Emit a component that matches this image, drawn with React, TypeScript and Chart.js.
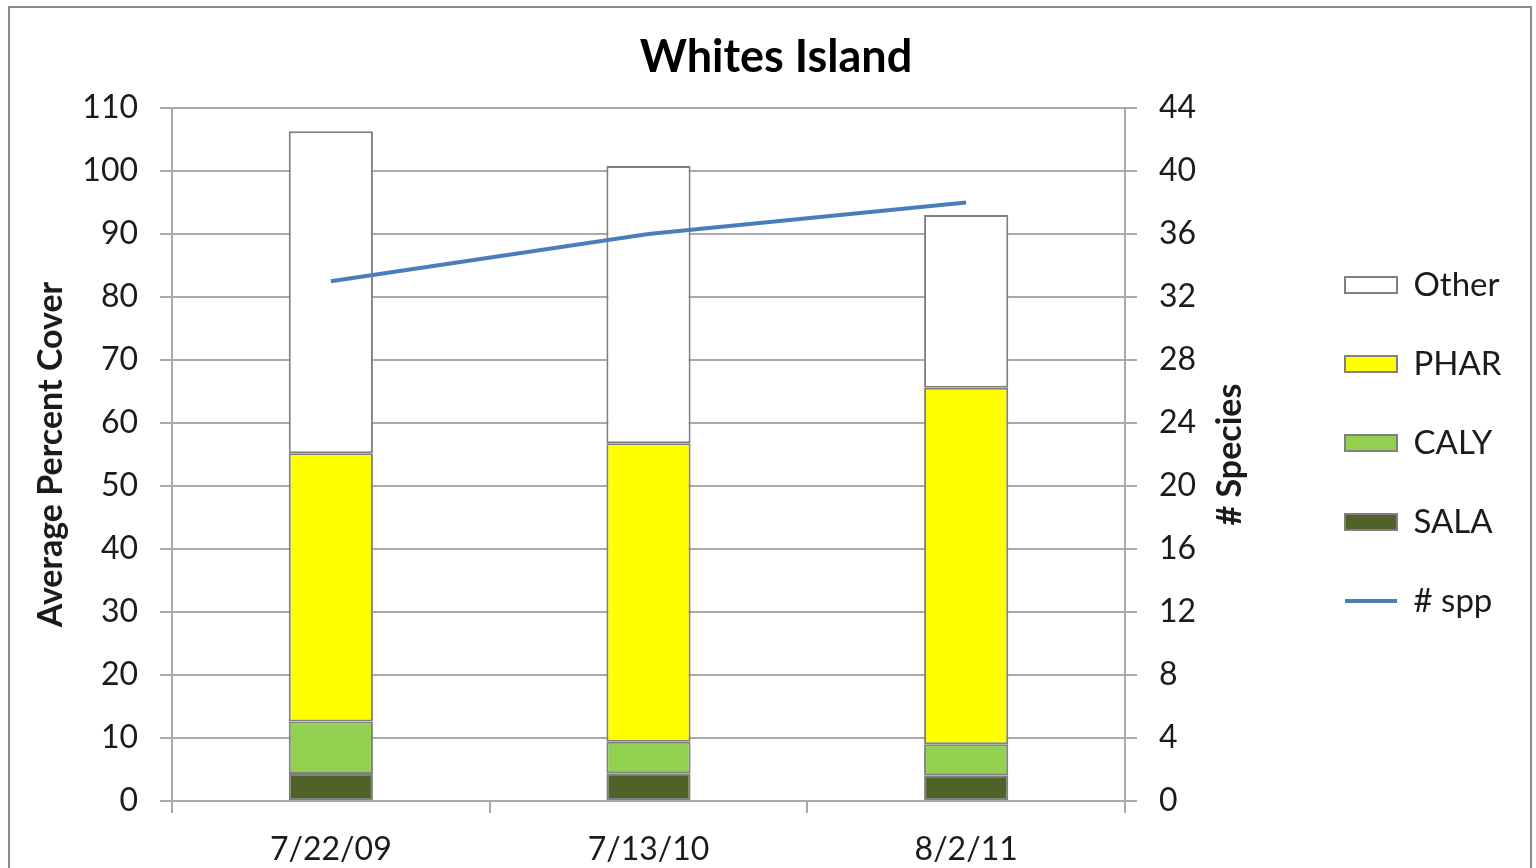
import React, { useEffect, useRef } from 'react';
import { Chart, registerables } from 'chart.js';

Chart.register(...registerables);

// Survey dates
const categories = ['7/22/09', '7/13/10', '8/2/11'];

// Average percent cover per species group (stacked bottom to top)
const salaCover = [4.3, 4.4, 4.1];
const calyCover = [8.3, 5.0, 4.9];
const pharCover = [42.6, 47.4, 56.6];
const otherCover = [51.1, 44.0, 27.4];

// Number of species recorded
const speciesCount = [33, 36, 38];

// Legend listing order
const legendOrder = ['Other', 'PHAR', 'CALY', 'SALA', '# spp'];

const FONT = 'Lato, "Open Sans", "Liberation Sans", sans-serif';
const GRID = '#a9a9a9';
const TEXT = '#1b1b1b';
const BAR_EDGE = '#808080';
const RIGHT_TITLE = '# Species';

// White page with a thin grey frame around the chart
const framePlugin = {
  id: 'frame',
  beforeDraw(chart: any) {
    const { ctx, width, height } = chart;
    ctx.save();
    ctx.fillStyle = '#ffffff';
    ctx.fillRect(0, 0, width, height);
    ctx.strokeStyle = '#8c8c8c';
    ctx.lineWidth = 2;
    ctx.strokeRect(9, 7, width - 14, height + 20);
    ctx.restore();
  },
};

// Right-axis title, reading bottom to top like the left one
const rightTitlePlugin = {
  id: 'rightTitle',
  afterDraw(chart: any) {
    const scale = chart.scales.y1;
    if (!scale) return;
    const { ctx, chartArea } = chart;
    ctx.save();
    ctx.translate(scale.left + 105, (chartArea.top + chartArea.bottom) / 2);
    ctx.rotate(-Math.PI / 2);
    ctx.fillStyle = TEXT;
    ctx.font = `bold 34px ${FONT}`;
    ctx.textAlign = 'center';
    ctx.textBaseline = 'middle';
    ctx.fillText(RIGHT_TITLE, 0, 0);
    ctx.restore();
  },
};

// Keeps the side legend at a fixed width so the plot area stays put
const legendWidthPlugin = {
  id: 'legendWidth',
  beforeLayout(chart: any, _args: any, opts: any) {
    const legend = chart.legend;
    if (legend && !legend.__fixedWidth) {
      const fit = legend.fit.bind(legend);
      legend.fit = () => {
        fit();
        legend.width = opts.width;
      };
      legend.__fixedWidth = true;
    }
  },
};

const barStyle = {
  borderColor: BAR_EDGE,
  borderWidth: 2,
  borderSkipped: false as const,
  barPercentage: 0.265,
  categoryPercentage: 1,
  yAxisID: 'y',
  stack: 'cover',
  order: 1,
};

export default function App() {
  const ref = useRef<HTMLCanvasElement>(null);

  useEffect(() => {
    if (!ref.current) return;
    const chart = new Chart(ref.current, {
      type: 'bar',
      data: {
        labels: categories,
        datasets: [
          {
            type: 'line',
            label: '# spp',
            data: speciesCount,
            yAxisID: 'y1',
            borderColor: '#4a7ebb',
            backgroundColor: '#4a7ebb',
            borderWidth: 4,
            pointRadius: 0,
            tension: 0,
            order: 0,
          } as any,
          { label: 'SALA', data: salaCover, backgroundColor: '#4f6228', ...barStyle },
          { label: 'CALY', data: calyCover, backgroundColor: '#92d050', ...barStyle },
          { label: 'PHAR', data: pharCover, backgroundColor: '#ffff00', ...barStyle },
          { label: 'Other', data: otherCover, backgroundColor: '#ffffff', ...barStyle },
        ],
      },
      options: {
        responsive: false,
        animation: false,
        layout: { padding: { top: 18, left: 30, right: 14, bottom: 0 } },
        plugins: {
          tooltip: { enabled: false },
          title: {
            display: true,
            text: 'Whites Island',
            color: '#000000',
            font: { family: FONT, size: 45, weight: 'bold' },
            padding: { top: 12, bottom: 24 },
          },
          legend: {
            position: 'right',
            align: 'center',
            labels: {
              usePointStyle: true,
              pointStyleWidth: 52,
              boxHeight: 16,
              padding: 46,
              color: TEXT,
              font: { family: FONT, size: 33 },
              generateLabels: (c: any) =>
                Chart.defaults.plugins.legend.labels.generateLabels(c).map((item: any) => ({
                  ...item,
                  pointStyle: c.data.datasets[item.datasetIndex].type === 'line' ? 'line' : 'rect',
                })),
              sort: (a: any, b: any) => legendOrder.indexOf(a.text) - legendOrder.indexOf(b.text),
            },
          },
          legendWidth: { width: 223 },
        } as any,
        scales: {
          x: {
            stacked: true,
            offset: true,
            grid: {
              offset: true,
              drawOnChartArea: false,
              drawTicks: true,
              tickLength: 12,
              color: GRID,
              lineWidth: 2,
            },
            border: { color: GRID, width: 2 },
            ticks: { color: TEXT, font: { family: FONT, size: 32 }, padding: 17 },
            afterFit: (s: any) => {
              s.height = 67;
            },
          },
          y: {
            stacked: true,
            min: 0,
            max: 110,
            ticks: { stepSize: 10, color: TEXT, font: { family: FONT, size: 32 }, padding: 22 },
            grid: { color: GRID, lineWidth: 2, tickLength: 12 },
            border: { color: GRID, width: 2 },
            title: {
              display: true,
              text: 'Average Percent Cover',
              color: TEXT,
              font: { family: FONT, size: 34, weight: 'bold' },
              padding: { top: 1, bottom: 0 },
            },
            afterFit: (s: any) => {
              s.width = 142;
            },
          },
          y1: {
            position: 'right',
            min: 0,
            max: 44,
            ticks: { stepSize: 4, color: TEXT, font: { family: FONT, size: 32 }, padding: 22 },
            grid: { drawOnChartArea: false, color: GRID, lineWidth: 2, tickLength: 12 },
            border: { color: GRID, width: 2 },
            title: { display: false, text: RIGHT_TITLE },
            afterFit: (s: any) => {
              s.width = 174;
            },
          },
        },
      },
      plugins: [framePlugin, legendWidthPlugin, rightTitlePlugin],
    });
    return () => chart.destroy();
  }, []);

  return (
    <div style={{ position: 'fixed', left: 0, top: 0, width: 1536, height: 868, background: '#fff' }}>
      <canvas ref={ref} width={1536} height={868} style={{ display: 'block' }} />
    </div>
  );
}
